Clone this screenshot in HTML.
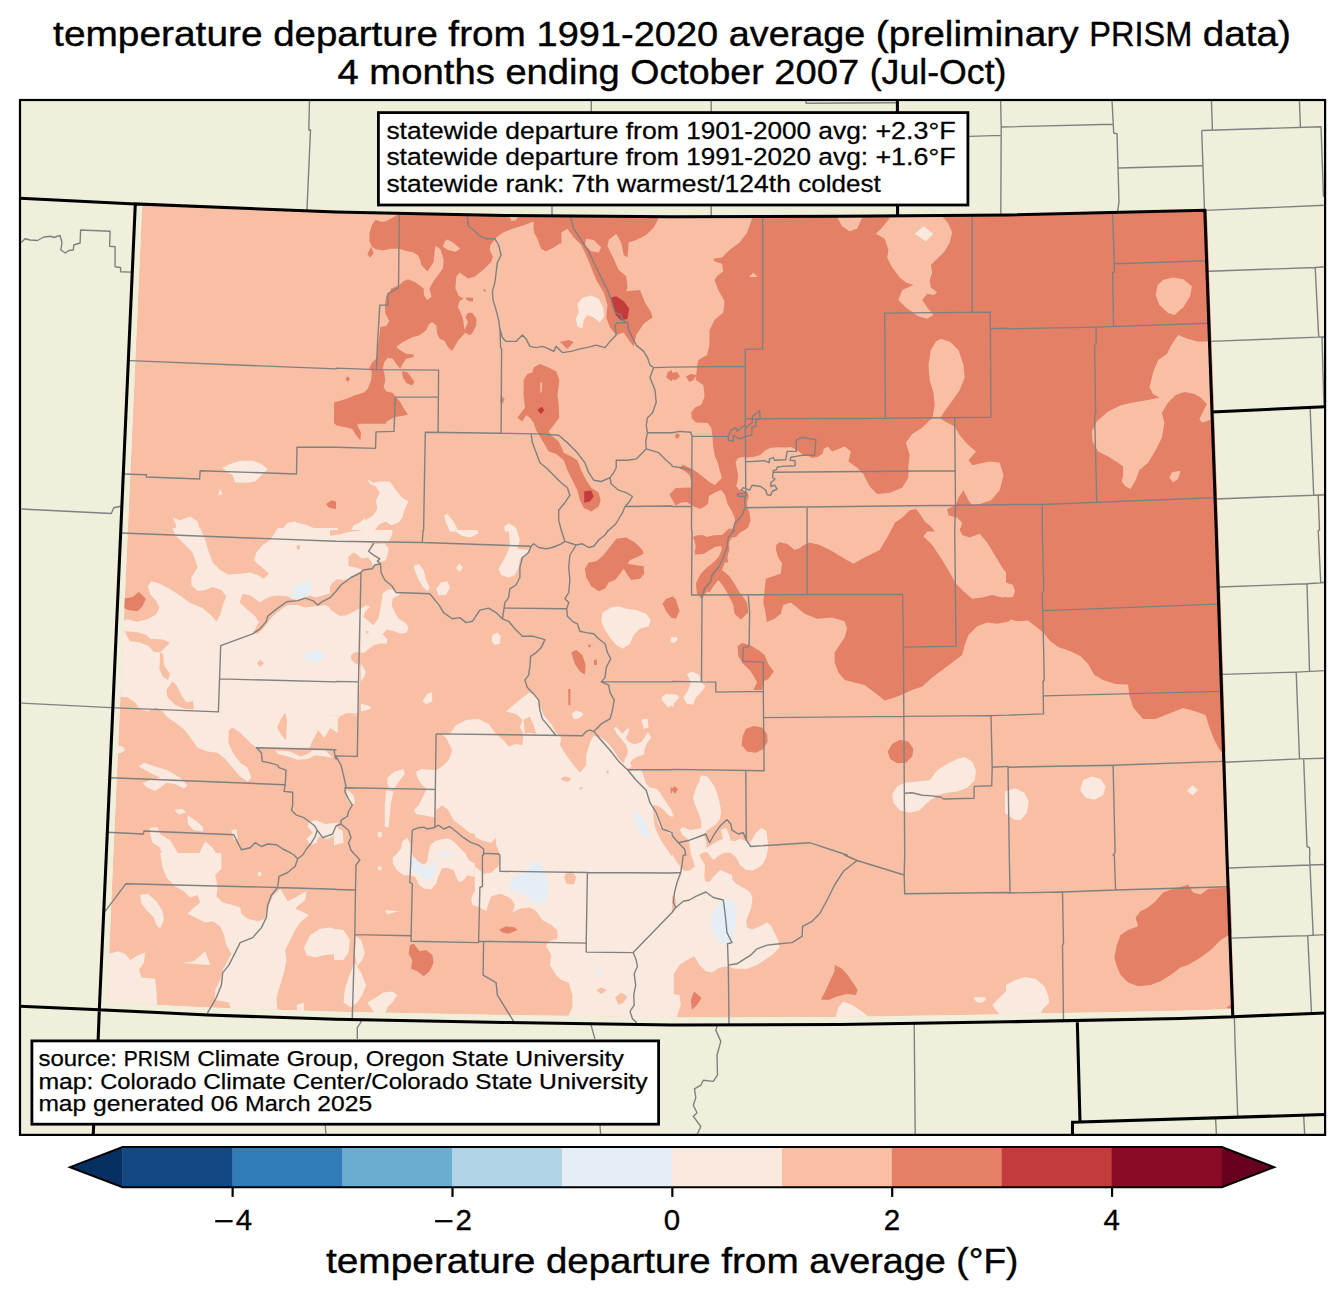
<!DOCTYPE html><html><head><meta charset="utf-8"><title>Colorado temperature departure</title>
<style>html,body{margin:0;padding:0;background:#fff}svg{display:block}text{font-family:"Liberation Sans",sans-serif;fill:#000;stroke:#000}</style></head><body>
<svg width="1344" height="1299" viewBox="0 0 1344 1299">
<rect width="1344" height="1299" fill="#fff"/>
<defs><clipPath id="fr"><rect x="20" y="100" width="1305.1" height="1034.9"/></clipPath>
<clipPath id="co"><path d="M142.2,203.9L336,212L504,215.5L672,216.8L840,216.3L1008,215L1206.8,210.2L1218.2,530L1228.9,855L1234.8,1008.9L1180,1010.8L1008,1014.2L840,1017L672,1017.4L504,1014.9L336,1011.7L207.5,1007.4L157.4,1005L106.95,1003.3L113.3,855L127.8,530Z"/></clipPath></defs>
<rect x="20" y="100" width="1305.1" height="1034.9" fill="#efefdb"/>
<g clip-path="url(#fr)">
<g clip-path="url(#co)" shape-rendering="geometricPrecision">
<path d="M142.2,203.9L336,212L504,215.5L672,216.8L840,216.3L1008,215L1206.8,210.2L1218.2,530L1228.9,855L1234.8,1008.9L1180,1010.8L1008,1014.2L840,1017L672,1017.4L504,1014.9L336,1011.7L207.5,1007.4L157.4,1005L106.95,1003.3L113.3,855L127.8,530Z" fill="#f8bfa4"/>
<g fill="#e48066"><path d="M326,504L331.5,500.2L336,501.5L336,509L329,507.7Z"/><path d="M399.5,213.4L392.8,217.5L386.1,221.2L381.1,221.7L375.6,219.7L371.9,225L369.4,233.4L369.4,240.9L371.9,246.8L376.1,249.3L382.8,250.4L391.1,248.8L399.1,248.8L406.2,250.9L412.8,252.3L417.8,255.1L420.3,260.1L421.2,265.1L427.5,271.5L433.7,261.8L434.5,251.8L435.7,245.9L440.4,249.3L443.7,260.1L442.9,268.5L433.7,281L429.5,288.5L431.5,296.9L427,299.9L424,295.2L423.7,288.5L419.5,285.2L414.5,281.8L407.8,279.3L402.8,281.8L399.1,285.2L391.1,288.5L389.1,293.5L386.1,296L384.9,305.2L385.3,313.6L389.4,321.1L386.1,326.1L380.3,326.9L379.1,338.6L377.8,348.6L376.1,358.7L371.9,362.8L369.4,367.9L371.9,372L371.1,380.4L367.7,388.7L362.7,393.7L354.4,395.4L347.7,399.6L341,402.9L336,403.8L334.3,403.8L334.3,423.8L386.1,423.8L386.1,422L394.5,417.1L402.8,415.8L407.8,414.6L403.6,407.9L400.3,402.1L396.1,397.1L392.8,392.9L386.1,391.2L383.6,387.1L385.3,380.4L384.4,373.7L382.8,367.9L384.4,362L387.8,357.8L392.8,358.7L396.1,363.7L400.3,368.7L402.8,363.7L406.2,358.7L413.7,357L413.7,354.5L406.2,353.7L400.3,350.3L396.1,347L402.8,342L412.8,337L419.5,335.3L426.2,330.3L428.7,324.4L432,321.9L436.2,325.3L437.1,333.6L439.6,338.6L444.6,341.1L447.9,347L452.1,351.1L455.4,345.3L457.9,341.1L462.9,335.3L465.4,332.8L469.6,335.3L472.1,333.6L476.3,325.3L476.3,318.6L472.1,312.7L468,312.7L465.4,316.9L468,321.9L464.6,330.3L462.9,318.6L460.4,311.9L457.9,306.9L459.6,301L463.8,298.5L458.8,296L455.4,288.5L456.3,276.8L459.6,272.6L468,278.5L474.6,276.8L483,270.1L491.3,261.8L493,256.8L489.7,250.1L490.5,245.1L496.3,237.6L503,232.6L513.1,228.4L524.7,225L534.8,220.9L537.3,219.2L538.1,225L533.9,232.6L537.3,238.4L541.4,249.3L546.5,250.9L553.1,247.6L560,243.4L561.5,243.4L561.5,212.5Z"/><path d="M371.1,246.8L373.6,253.4L370.2,257.6L367.4,254.3Z"/><path d="M346.4,377L349.4,379.5L347.7,382.1L345.7,379.5Z"/><path d="M402,371.2L407,372L411.2,377L414.5,382.1L412,385.4L406.2,382.9L402.8,377Z"/><path d="M465.4,297.7L473,297.4L473,301.5L468,301Z"/><path d="M501,395.4L504.7,399.6L502.2,403.8L500.5,400.4Z"/><path d="M483,289L486,289.9L484.7,292.2Z"/><path d="M533.6,215L533.6,230L538.7,236.3L539.9,245L544.9,251.3L553.7,247.5L558.7,240L561.2,232.5L567.4,228.8L573.7,237.5L581.2,245L586.2,255L591.2,267.5L596.2,280.1L603.7,292.6L607.5,305.1L606.2,317.6L610,327.6L616.2,335.1L623.7,332.6L628.7,340.1L633.7,346.4L636.2,335.1L643.7,323.8L652.5,317.6L651.2,312.6L645,302.6L640,290.1L626.2,291.3L627.5,287.6L626.2,276.3L618.7,270L613.7,258.8L607.5,246.3L608.7,240L616.2,233.8L621.2,242.5L623.7,255L627.5,257.5L628.7,242.5L636.2,240L646.2,235L653.7,227.5L658.7,218L658.7,213.8Z"/><path d="M533.6,367.6L539.9,363.9L548.7,367.6L556.2,371.4L559.4,380.1L557.4,395.1L558.7,405.2L559.2,417.7L553.7,425.2L548.7,431.4L551.2,435.2L558.7,441.4L562.4,448.9L563.7,452.7L571.2,456.4L577.4,460.2L581.2,470.2L586.2,480.2L591.2,487.7L598.7,492.7L600.7,500.2L598.7,506.5L591.2,511.5L583.7,507.7L579.9,500.2L577.4,490.2L572.4,480.2L567.4,470.2L563.7,460.2L556.2,453.9L548.7,451.4L543.7,442.7L539.9,436.4L536.2,430.2L533.6,422.7L529.9,417.7L526.1,415.2L522.4,421.4L517.4,417.7L521.1,412.7L524.9,407.7L523.6,395.1L523.6,380.1L527.4,373.9L532.4,372.6Z"/><path d="M346,377.6L348.5,376.4L350,379.6L347.5,381.4Z"/><path d="M500.6,395.1L504.1,398.9L502.4,403.9L500.4,401.4Z"/><path d="M559.9,342.1L568.7,340.1L573.7,342.1L567.4,348.9Z"/><path d="M672,370.1L667.5,372.6L666.2,377.6L672,381.4Z"/><path d="M395.3,397.6L399.8,402.6L403.6,408.9L407.3,414.7L401,415.7L395.3,416.4Z"/><path d="M334,402.6L346,398.9L356,395.1L367.3,391.4L386,391.4L394.8,397.6L395.3,416.4L389.8,408.9L387.3,415.2L381,423.2L373.5,420.2L366,417.7L359.8,420.2L357.3,425.2L361,432.7L360.3,440.2L356,435.2L352.3,428.9L346,427.2L341,426.4L336,425.2L334,421.4Z"/><path d="M753.3,215L747.1,232.5L739.6,242.5L729.5,250L722,257.5L713.3,258.8L714.5,261.3L722,263.8L723.3,271.3L717,276.3L714.5,280.1L718.3,290.1L724.5,301.3L723.3,312.6L714.5,320.1L709.5,330.1L709.5,345.1L707,355.1L698.3,360.1L697,367.1L695.8,380.1L703.3,385.1L704.5,395.1L703.3,403.9L827.1,403.9L827.1,445.7L832.1,451.4L844.6,446.4L850.9,451.4L848.4,461.4L857.1,467.7L863.4,474L869.6,486.5L877.2,494L889.7,492.7L902.2,487.7L908.4,477.7L908.4,465.2L909.7,455.2L905.9,442.7L912.2,433.9L922.2,427.7L929.7,420.2L933.4,417.7L941,418.9L947.2,422.7L954.7,426.4L959.7,435.2L967.2,443.9L976,451.4L968.5,460.2L972.2,465.2L989.7,461.4L999.7,462.7L1003.5,475.2L999.7,490.2L991,500.2L979.7,504L972.2,505.2L968.5,500.2L963.5,490.2L958.5,497.7L956,505.2L947.2,509L948.5,515.2L957.2,517.7L962.2,522.7L959.7,531.5L1009.8,531.5L1009.8,212.5Z"/><path d="M890.9,531.5L894.7,522.7L902.2,517.7L909.7,510.2L915.9,509L920.9,515.2L924.7,521.5L930.9,526.5L934.7,531.5Z"/><path d="M672,373.1L677,372.1L680,376.4L675.8,380.1L672,379.6Z"/><path d="M685.8,376.4L690.8,373.9L697,375.1L693.3,380.1L689.5,382.1Z"/><path d="M703.8,398.8L701.2,405L695,407.5L691.2,412.5L691.9,418.8L696.2,422.5L707.5,423.1L711.2,427.5L712.5,436.2L713.1,446.2L715,456.2L718.1,463.8L720,471.2L721.9,478.1L715,485L710,482.5L703.8,477.5L697.5,472.5L692.8,469.4L690,468.1L682.5,464.4L680,468.8L685,471.2L689.4,475L691,480L691.2,487.5L675.6,488.1L669.4,494.4L672.5,500L675.6,505.6L681.2,502.5L686.9,501.9L692.8,506.2L700,508.8L703.8,506.9L708.1,503.8L708.8,496.2L715,492.5L721.2,490L725,495L727.5,503.8L731.9,511.2L735,518.8L734.4,525L731.9,531.2L729.4,536.2L725,535.6L720,535L712.5,535.6L708.1,537.5L702.5,535L696.2,535.6L693.1,537.5L695.6,542.5L696.9,546.2L694.4,551.9L697.5,554.4L703.8,553.8L710,550L716.2,546.2L721.2,545L721.9,550L718.8,556.2L716.9,562.5L728.1,562.5L727.5,557.5L728.1,550L728.8,542.5L731.9,537.5L736.2,536.9L740,532.5L745,530L748.1,527.5L750.6,520L749.4,512.5L747.5,507.5L746.9,502.5L748.8,496.2L747.5,491.9L742.5,492.5L738.1,488.8L736.2,486.2L737.5,481.2L738.1,475L736.9,468.8L735.6,462.5L737.5,458.8L741.2,456.9L746.2,457.5L753.8,456.9L760,455L765,450.6L770,448.1L777.5,447.2L785,447.5L791.2,446.9L796.2,449.4L800,452.5L803.8,455L808.8,456.2L812.5,458.1L817.5,456.9L822.5,453.8L823.8,448.8L828.8,446.2L828.8,398.8Z"/><path d="M675.6,433.8L678.8,433.5L680,436.2L676.9,438.8L675,436.9Z"/><path d="M776.2,545L780,541.9L785,544.4L790,548.1L793.8,550.6L798.8,548.8L803.8,545L810,543.1L817.5,544.4L823.8,547.5L828.8,549.4L828.8,562.5L781.2,562.5L778.1,556.2L776.2,550Z"/><path d="M1006,210L1218.2,205L1223.2,531.5L1006,531.5Z"/><path d="M122.6,598.8L132.6,597.1L138.9,592L145.9,598.8L142.6,606.3L137.6,611.3L128.8,610.1L122.6,607.6Z"/><path d="M616.2,538.8L626.2,537.5L635,542.5L642.5,550L643.7,553.8L636.2,557.5L630,560L627.5,563.8L635,565L643.7,566.3L644.2,573.8L640,578.8L631.2,580L627.5,575L623.7,568.8L620,573.8L615,580L608.7,582.5L605,588.8L598.7,591.3L591.2,586.3L586.2,577.5L584.9,568.8L588.7,562.5L596.2,561.3L602.4,556.3L607.5,550L612.5,543.8Z"/><path d="M673.8,596.3L666.2,598.8L662.5,603.8L666.2,611.3L670,616.3L673.8,616.3Z"/><path d="M571.2,652.6L576.2,650.1L582.4,655.1L585.7,665.1L584.9,674.6L579.9,671.4L574.9,663.9Z"/><path d="M593.7,660.1L596.9,659.6L596.9,665.1L594.2,665.1Z"/><path d="M588.2,644.6L590.7,644.6L590.7,647.1L588.2,647.1Z"/><path d="M568.2,688.9L570.4,688.9L570.4,705.1L568.4,705.1Z"/><path d="M892.2,528L887.2,537.5L879.7,550L869.6,555L862.1,558.8L853.4,563.8L844.6,558.8L832.1,551.3L819.6,545L808.4,542.5L802.1,547.5L794.6,550L787.1,543.8L779.6,542.5L775.8,548.8L778.3,557.5L782.1,562.5L780.8,573.8L773.3,576.3L765.8,578.8L764.6,590L763.3,602.6L765.8,613.8L766.6,622.1L774.6,618.8L780.8,613.8L783.3,605.1L790.8,602.6L797.1,607.6L804.6,613.8L817.1,618.8L832.1,617.6L844.6,621.3L847.1,628.8L844.6,637.6L839.6,645.1L834.6,652.6L834.6,662.6L838.4,672.6L844.6,680.1L854.6,682.6L864.6,685.1L874.7,692.6L884.7,700.6L894.7,697.6L903.4,693.9L912.2,690.1L922.2,686.4L932.2,677.6L942.2,670.1L952.2,662.6L962.2,655.1L964.7,645.1L968.5,635.1L977.2,626.3L987.2,622.6L997.2,623.8L1009.8,621.3L1009.8,596.3L1002.2,597.6L992.2,595L982.2,597.6L972.2,598.8L963.5,591.3L956,583.8L949.7,572.5L942.2,560L932.2,545L923.4,536.3L929.7,528Z"/><path d="M959.7,528L962.2,535L969.7,537.5L979.7,533.8L987.2,542.5L994.7,555L1002.2,567.5L1009.8,577.5L1009.8,528Z"/><path d="M693.3,536.3L699.5,538.8L709.5,536.3L722,535L728.3,528.7L739.6,528.7L735.8,533.8L729.5,537.5L725.8,545L719.5,546.3L709.5,547.5L702,553.8L694.5,554.5L695.8,546.3Z"/><path d="M728.3,537.5L729.5,550L725.8,560L722,570L717,576.3L712,583.8L707,591.3L702,598.8L697,593.8L695.8,583.8L700.8,573.8L707,567.5L713.3,562.5L719.5,556.3L723.3,547.5L725.8,540Z"/><path d="M722,570L729.5,576.3L734.5,583.8L739.6,592.5L747.1,602.6L748.3,612.6L740.8,619.6L734.5,613.8L733.3,605.1L728.3,595L723.3,586.3L718.3,580L713.3,586.3L709.5,592.5L707,591.3L712,583.8L717,576.3Z"/><path d="M670.7,597.1L675.8,598.8L679.5,611.3L675.8,618.8L670.7,617.6Z"/><path d="M737.5,646.3L742.1,643.1L749.6,645.1L758.3,650.1L764.6,655.1L768.3,663.9L773.8,671.4L768.3,678.9L763.3,681.4L762.1,690.1L753.3,690.1L757.1,682.6L754.6,677.6L749.6,670.1L743.3,663.9L738.3,656.3Z"/><path d="M745.8,728.9L753.3,725.9L762.1,727.6L767.1,733.9L767.6,741.4L763.3,748.9L755.8,752.7L747.1,751.4L741.6,745.2L742.6,736.4Z"/><path d="M892.2,743.9L899.7,739.7L908.4,741.4L913.4,748.9L912.2,756.4L905.9,762.7L897.2,763.2L890.2,758.9L887.7,751.4Z"/><path d="M670.7,787.7L675,786.4L677.5,790.2L674.5,793.9L670.7,792.7Z"/><path d="M1006,528L1006,618.8L1018,621.3L1028,620.6L1035.5,626.3L1043,632.6L1050.5,641.3L1058,647.1L1070.5,651.3L1080.6,656.3L1088.1,663.9L1094.3,675.1L1103.1,680.1L1115.6,683.9L1128.1,684.6L1129.3,695.1L1133.1,707.6L1143.1,718.9L1155.6,718.9L1168.1,713.9L1183.1,708.1L1195.6,711.4L1205.6,715.1L1209.4,727.6L1214.4,740.2L1220.7,751.4L1228.2,751.4L1220.7,528Z"/><path d="M409.8,945.1L413.6,943.8L419.8,951.3L426.1,950.1L432.3,955.1L433.6,962.6L429.8,971.3L423.6,976.3L417.3,971.3L411.1,968.8L412.3,960.1L408.6,953.8Z"/><path d="M499.1,929.6L506.1,926.3L514.9,927.6L517.4,930.1L508.6,933.8L502.4,932.6Z"/><path d="M834.6,965.1L842.1,968.8L849.6,977.6L857.6,990.1L855.9,995.1L847.1,993.9L837.1,996.4L828.4,1000.1L820.9,999.4L825.9,990.1L830.9,978.8L834.6,971.3Z"/><path d="M694,991.4L701.5,998.1L697,1005.1L692,1009.6L690.8,1000.1Z"/><path d="M1188.1,884.5L1193.1,892.5L1200.6,894.5L1208.2,888.8L1233.2,887.5L1233.2,932.6L1220.7,940.1L1210.7,950.1L1200.6,957.6L1188.1,965.1L1180.6,967.6L1170.6,975.1L1160.6,981.3L1150.6,985.1L1138.1,986.3L1128.1,982.6L1120.6,975.1L1116.8,966.3L1114.3,957.6L1116.8,945.1L1120.6,935.1L1128.1,930.1L1138.1,926.3L1135.6,917.5L1140.6,911.3L1148.1,907.5L1155.6,901.3L1163.1,892.5L1173.1,888.8L1180.6,887Z"/><path d="M1226.2,1008.1L1233.2,1002.6L1233.2,1008.4Z"/></g>
<g fill="#f8bfa4"><path d="M447.1,239.6L452.9,242.6L460.4,248.8L455.4,251.8L447.9,250.1L442.9,246.4L444.6,241.7Z"/><path d="M509.7,217L518.1,216.7L515.6,220.4L511.4,220.9Z"/><path d="M586.2,238.8L593.7,240L601.2,247.5L598.7,252.5L591.2,251.3L584.9,245Z"/><path d="M540.2,382.6L542.2,382.6L541.7,392.6L540.4,392.6Z"/><path d="M941,338.9L949.7,341.4L958.5,350.1L963.5,365.1L964.7,377.6L959.7,390.1L951,402.6L943.5,412.7L939.7,419.2L932.2,419.2L934.7,405.2L933.4,392.6L929.7,380.1L928.4,365.1L930.9,350.1L935.9,341.4Z"/><path d="M892.2,215L882.2,227.5L875.9,233.8L884.7,238.8L888.4,250L887.2,257.5L892.2,267.5L899.7,277.6L905.9,282.6L913.4,285.1L902.2,290.1L898.4,300.1L905.9,307.6L918.4,316.3L927.2,318.8L933.4,315.1L927.2,307.6L922.2,300.1L927.2,293.8L933.4,295.1L937.2,292.6L930.9,287.6L929.7,280.1L932.2,272.6L930.9,265L937.2,258.8L944.7,251.3L949.7,242.5L952.2,232.5L948.5,223.8L941,215Z"/><path d="M835.9,215L842.1,226.3L849.6,231.3L857.1,228.8L863.4,215Z"/><path d="M753.3,272.6L757.6,277.1L749.1,277.1Z"/><path d="M1163.1,280.1L1173.1,277.6L1183.1,279.3L1191.9,286.3L1190.1,296.3L1183.1,307.6L1174.4,315.1L1168.1,313.1L1159.4,305.1L1155.6,295.1L1157.6,285.1Z"/><path d="M1178.1,335.1L1171.9,343.9L1166.9,353.9L1158.1,360.1L1153.1,372.6L1149.4,387.6L1153.1,393.9L1159.4,397.6L1148.1,400.1L1133.1,402.6L1120.6,405.2L1108.1,411.4L1096.8,421.4L1091.8,431.4L1092.6,441.4L1098.1,451.4L1108.1,456.4L1118.1,462.7L1123.1,466.4L1123.1,475.2L1121.8,481.5L1125.6,486.5L1130.6,489L1135.6,480.2L1139.3,470.2L1148.1,462.7L1155.6,450.2L1161.9,437.7L1164.4,422.7L1161.9,412.7L1168.1,402.6L1175.6,395.1L1184.4,392.1L1194.4,393.9L1200.6,397.6L1206.9,403.9L1203.1,411.4L1199.4,418.9L1201.9,422.7L1209.4,420.2L1215.7,418.9L1215.7,341.4L1198.1,341.4L1188.1,338.9Z"/><path d="M1171.9,472.2L1180.6,470.7L1178.1,479L1173.1,482.2L1169.4,477.7Z"/><path d="M1006,582.5L1013,585L1015,591.3L1013,597.1L1006,597.6Z"/></g>
<g fill="#c43b3c"><path d="M611.2,297.6L616.2,296.3L623.7,301.3L629.2,308.8L627.5,318.8L621.2,320.6L615.7,315.1L612.5,306.3Z"/><path d="M537.4,409.7L541.7,406.7L544.4,410.2L540.7,413.9Z"/><path d="M584.2,491.5L591.2,490.2L593.7,496.5L589.9,501.5L584.2,502.7Z"/></g>
<g fill="#fae9df"><path d="M222.2,467.7L230.2,463.9L240.2,460.7L252.7,460.7L261.4,463.9L267.7,468.9L262.7,474L255.2,481.5L245.2,482.7L235.2,482.2L232.7,475.2L226.4,471.4Z"/><path d="M220.2,489L222.7,494L218.2,495.2Z"/><path d="M172.6,517.7L180.1,520.2L190.1,516.5L197.6,521.5L200.2,531.5L175.1,531.5L176.4,525.2Z"/><path d="M280.2,531.5L287.7,522.7L295.2,521.5L302.7,531.5Z"/><path d="M367.3,479L373.5,482.7L379.8,481.5L389.8,481.5L396,490.2L402.3,497.7L408.6,501.5L404.8,509L402.3,517.7L398.5,522.7L391,525.2L386,521.5L379.8,524L373.5,531.5L351,531.5L353.5,525.2L363.5,521.5L373.5,515.2L377.3,509L376,500.2L379.8,492.7L376,486.5L369.8,484Z"/><path d="M444.1,515.2L447.3,514L453.6,521.5L458.6,531.5L449.8,531.5L446.1,522.7Z"/><path d="M504.1,526.5L508.6,523.2L514.9,526.5L516.1,531.5L504.9,531.5Z"/><path d="M577.4,303.8L582.4,298.1L591.2,295.6L598.7,298.8L603.2,307.6L604.2,316.3L599.9,322.6L593.7,317.6L587.4,315.1L583.7,320.1L582.4,328.8L577.4,326.3L575.7,318.8L578.7,312.6Z"/><path d="M923.4,226.3L933.4,233.8L925.9,241.3L914.7,233.8Z"/><path d="M120.1,622.1L127.6,619.3L136.4,621.8L147.6,619.3L156.4,614.3L159.4,607.6L155.6,600.1L150.6,595L147.6,586.3L151.4,581.3L160.1,583.8L170.1,589.3L180.1,595.5L190.1,603.1L202.7,608.1L211.4,615.6L216.4,621.8L220.2,615.1L222.7,605.1L226.4,596.3L221.4,590L212.7,587L205.2,590L197.6,591.3L191.4,585L191.4,577.5L197.6,567.5L192.6,552.5L185.1,545L175.1,535L172.6,528L200.2,528L205.2,540L208.9,552.5L212.7,562.5L220.2,570L227.7,574.5L240.2,573.8L250.2,572.5L257.7,575L263.9,578.8L269,573.8L265.2,570L258.9,565L253.9,560L256.4,552.5L262.7,545L270.2,540L275.2,532.5L277.7,528L337.8,528L337.8,588L332.7,592.5L322.7,595.5L315.2,597.6L310.2,595.5L304,597.6L297.7,600.1L291.5,598.8L287.7,596.3L277.7,595.5L271.5,596.3L265.2,598.8L260.2,602.6L250.2,595.5L242.7,593.8L239.7,602.6L247.7,610.1L255.2,616.3L258.9,622.6L255.2,628.8L252.7,632.6L257.7,633.8L265.2,626.3L271.5,617.6L280.2,610.1L287.7,605.1L297.7,605.1L305.2,607.6L315.2,606.3L325.2,605.1L337.8,612.6L337.8,733.2L330.2,728.1L324.5,737.7L318.2,730.2L311.5,742.7L309.7,747.7L256.4,747.7L250.2,742.7L240.2,732.7L232.7,727.6L228.9,730.2L228.2,742.7L232.7,752.7L240.2,762.7L247.7,767.7L251.4,777.7L247.7,781.4L240.2,776.4L232.7,767.7L225.2,758.9L217.7,752.7L207.7,751.4L197.6,747.7L191.4,738.9L185.1,730.2L175.1,722.6L166.4,716.4L162.6,711.4L156.4,707.6L147.6,711.4L140.1,708.9L135.1,702.6L127.6,697.6L117.6,696.4Z"/><path d="M116.3,745.2L122.6,746.4L125.1,750.2L120.1,753.4L116.3,752.7Z"/><path d="M138.9,766.4L143.9,762.7L155.1,766.4L167.6,770.2L180.1,777.7L187.6,785.2L183.9,788.4L175.1,783.9L166.4,782.7L160.1,787.7L155.1,790.7L147.6,787.7L142.6,783.2L150.1,780.2L160.1,777.7L150.1,772.7Z"/><path d="M174.4,809.7L182.6,809L186.4,812.2L178.9,814.5Z"/><path d="M187.6,815.2L195.1,820.2L202.7,826.5L203.2,831.5L193.9,830.2L187.6,824Z"/><path d="M150.1,827.7L157.6,827.2L160.1,834L170.1,840.2L180.1,856.5L162.6,856.5L160.1,847.7L152.6,842.7L150.1,834Z"/><path d="M197.6,856.5L205.2,841.5L212.7,847.7L217.7,856.5Z"/><path d="M231.4,830.2L236.4,829L237.7,839L233.9,840.2Z"/><path d="M309,821.5L316.5,820.2L325.2,824L337.8,822.7L337.8,834L327.7,839L319,836.5L316.5,842.7L310.2,845.2L306.5,839L312.7,832.7L307.7,826.5Z"/><path d="M275.2,750.2L290.2,751.4L300.2,756.4L307.7,753.9L312.7,750.2L325.2,750.2L332.7,757.7L325.2,756.4L315.2,755.2L307.7,758.9L297.7,759.7L287.7,756.4L277.7,753.9Z"/><path d="M436.1,770.2L443.6,765.2L448.6,760.2L452.3,750.2L446.1,737.7L441.1,733.9L449.8,733.9L456.1,725.1L466.1,720.1L478.6,718.9L488.6,723.9L496.1,733.9L503.6,740.2L508.6,746.4L516.1,743.9L522.4,745.2L523.6,733.9L519.9,727.6L522.4,720.1L516.1,713.9L506.1,711.4L513.6,705.1L522.4,697.6L529.9,692.6L536.2,696.4L539.9,705.1L543.7,715.1L551.2,723.9L556.2,732.7L561.2,737.7L559.9,745.2L566.2,755.2L573.7,765.2L579.9,772.7L586.2,765.2L586.2,755.2L589.9,742.7L593.7,735.2L597.4,737.7L605,745.2L611.2,752.7L618.7,760.2L626.2,767.7L632.5,773.9L640,782.7L646.2,790.2L651.2,802.7L657.5,815.2L661.2,825.2L666.2,830.2L673.8,831.5L673.8,856.5L501.1,856.5L496.1,845.2L496.1,837.7L491.1,842.7L481.1,840.2L472.4,835.2L463.6,827.7L453.6,820.2L448.6,810.2L442.3,805.2L436.1,810.2Z"/><path d="M593.7,749.7L596.7,753.9L595.7,761.4L592.9,756.4Z"/><path d="M602.4,612.6L611.2,607.6L618.7,606.3L626.2,608.8L636.2,610.1L646.2,613.8L650.7,620.1L648.7,626.3L640,628.8L633.7,635.1L630,643.8L622.5,648.8L616.2,645.1L610,637.6L605,630.1L601.2,621.3Z"/><path d="M508.6,528L516.1,528L519.9,540L517.4,548.8L528.6,550L526.1,555L519.9,558.8L518.6,567.5L514.9,575L508.6,577.5L501.1,575L498.6,568.8L503.6,560L507.4,552.5L509.9,545Z"/><path d="M413.6,566.3L418.6,563.8L423.6,570L426.1,580L429.8,587.5L427.3,591.3L422.3,586.3L417.3,577.5Z"/><path d="M436.1,588.8L441.1,582.5L447.3,581.3L449.8,587.5L446.1,595L438.6,595.5Z"/><path d="M459.3,563.8L463.1,567.5L459.8,571.8L456.1,568Z"/><path d="M492.4,635.1L497.4,632.6L500.6,636.3L499.9,643.8L494.9,645.1L491.9,641.3Z"/><path d="M422.3,701.4L427.3,693.9L431.8,692.1L432.3,701.4L426.1,703.9Z"/><path d="M571.7,713.9L576.2,710.6L583.7,713.9L579.9,718.1L573.7,718.9Z"/><path d="M661.2,697.6L666.2,693.9L673.8,695.1L673.8,706.4L666.2,705.1Z"/><path d="M641.7,720.1L647.5,718.9L648.7,727.6L643.7,728.9Z"/><path d="M334,542.5L368.5,542.5L373.5,547.5L367.3,553.8L361,552.5L353.5,553.8L348.5,557.5L348.5,565L358.5,567.5L361,571.3L351,576.3L341,583.8L334,588.8Z"/><path d="M361,612.6L367.3,606.3L371,610.1L369.8,617.6L373.5,623.8L379.8,617.6L378.5,605.1L382.3,592.5L389.8,588.8L393.5,597.6L392.3,605.1L397.3,612.6L404.8,620.1L408.6,626.3L406.1,632.6L396,631.3L389.8,627.6L386,635.1L388.5,641.3L381,643.8L373.5,645.1L366,651.3L359.8,652.6Z"/><path d="M334,616.3L343.5,612.6L351,610.1L361,615.1L359.8,652.6L351,653.8L349.8,658.8L356,662.6L359,666.4L358.5,681.4L334,680.1Z"/><path d="M334,679.6L358,680.1L358,702.6L363.5,705.1L371,706.4L368.5,708.9L358.5,710.1L357.3,716.4L349.8,715.1L342.3,713.9L334,722.6Z"/><path d="M387.3,777.7L394.8,771.4L403.6,768.9L404.8,773.9L399.8,780.2L394.8,787.7L389.8,790.2L387.3,783.9Z"/><path d="M416.1,771.4L422.3,768.9L436.1,770.2L436.1,788.9L428.6,790.2L422.3,785.2L417.3,777.7Z"/><path d="M386,790.2L393.5,791.4L391,802.7L389.8,815.2L388.5,827.7L384.8,826.5L384.8,805.2Z"/><path d="M413.6,810.2L418.6,805.2L423.6,795.2L426.1,790.2L435.6,790.2L435.6,817.7L423.6,815.2L416.1,814Z"/><path d="M377.3,832.7L381,831.5L382.3,836.5L378.5,837.7Z"/><path d="M346.5,788.9L353.5,795.2L354.8,802.7L351,805.2L347.3,799Z"/><path d="M334,826.5L342.3,830.2L343.5,842.7L334,845.2Z"/><path d="M432.3,856.5L434.8,847.7L441.1,842.7L447.3,844L452.3,850.2L454.8,856.5Z"/><path d="M687,673.9L692,671.4L699.5,675.1L700.8,681.4L705.3,686.4L700.8,692.6L695.8,697.6L693.3,704.4L687,703.9L683.3,697.6L688.3,690.1L690.8,682.6Z"/><path d="M670.7,693.9L677,695.1L679.5,697.6L674.5,702.6L670.7,703.9Z"/><path d="M670.7,637.6L677,637.1L677.5,640.1L674,643.1L670.7,642.1Z"/><path d="M702,775.7L709.5,780.2L715.8,790.2L718.3,802.7L720.8,812.7L718.3,820.2L712,825.2L707,832.7L702,825.2L700.8,815.2L697,807.7L694,797.7L697,785.2Z"/><path d="M679.5,827.7L687,831.5L699.5,832.7L709.5,834L717,825.2L722,821.5L730.8,830.2L734.5,837.7L743.3,841.5L752.1,835.2L758.3,830.2L765.8,829L767.1,837.7L759.6,845.2L747.1,846.5L732,847.7L729.5,856.5L692,856.5L688.3,845.2L682,835.2Z"/><path d="M897.2,786.4L904.7,782.7L917.2,781.4L929.7,780.2L937.2,770.2L947.2,763.9L957.2,758.9L964.7,757.2L972.2,761.4L976,770.2L974.7,780.2L967.2,787.7L957.2,791.4L947.2,792.7L937.2,795.2L927.2,802.7L919.7,810.2L909.7,812.7L899.7,810.2L893.4,802.7L892.2,793.9Z"/><path d="M1083.1,780.2L1091.8,776.4L1100.6,778.9L1105.6,786.4L1103.1,795.2L1094.3,799.7L1085.6,797.7L1080.1,790.2Z"/><path d="M1005,791.4L1015.5,788.2L1024.3,792.7L1028.8,801.5L1026.8,812.7L1020.5,820.2L1014.3,819.7L1005,812.7Z"/><path d="M1192.4,785.2L1198.1,790.2L1192.6,795.2L1186.9,790.7Z"/><path d="M613.8,728.1L616.2,726.9L622.5,733.8L626.2,729.4L629.4,728.1L628.5,732.8L625.6,737.5L628.1,741.2L634.4,744.4L641.2,741.9L645,736.9L647.9,731.9L651.2,737.5L647.5,742.5L645,748.1L643.5,755L637.5,756.5L633.1,759L630,763.1L631.9,766.9L626.9,768.5L622.5,765L625,758.8L627.5,755L627.8,750L625.6,744.4L621.9,739.4L617.5,735Z"/><path d="M596.2,736.2L601.2,737.5L606.2,741.2L611.2,746.9L615,752.5L618.8,758.8L622.5,762.5L626.9,768.5L621.2,765L615,758.8L610,750L603.8,743.8L597.5,737.5Z"/><path d="M626.9,768.8L641.2,770L643.8,776.2L646.2,783.8L650,787.5L656.2,788.8L660,792.5L663.8,798.8L668.8,806.2L673.8,813.8L673.1,816.9L668.8,815.6L663.8,810L658.8,806.2L653.8,805L651.9,807.5L647.5,800L646.2,792.5L640,785L633.8,776.2L628.1,772.5Z"/><path d="M701.2,775.6L706.9,776.5L711.2,781.2L715,790L718.1,800L720.6,808.8L721.5,817.5L719.4,823.1L714.4,826.2L707.5,828.1L701.2,826.2L701.9,821.2L700,814.4L696.9,807.5L694,798.8L695,791.2L697.5,783.8Z"/><path d="M701.2,826.2L707.5,828.1L697.5,830L690,829.4L685,827.2L681.2,828.8L681.9,833.8L687.5,837.5L689.4,841.9L685,840L680,833.8L680,828.8L683.8,826.2L691.2,828.1Z"/><path d="M661.2,699.4L665,703.8L668.1,707.5L672.5,703.8L676.2,699.4Z"/><path d="M685,699.4L688.8,703.1L692.5,703.1L695,699.4Z"/><path d="M572.5,713.1L576.2,711L581.2,711.9L583.1,713.8L580.6,716.9L576.2,718.8L573.8,716.2Z"/><path d="M642.2,720L644.4,718.8L647.5,720.6L648.1,728.1L645.6,727.5L642.5,723.8Z"/><path d="M273.3,540L283.3,531.7L293.3,521.7L306.7,525L316.7,529.3L333.3,532.7L346.7,533.3L356.7,525L365,518.3L366.7,540Z"/><path d="M160.1,853L221.4,853L221.4,868.8L215.2,875L217.7,887.5L216.4,896.3L222.7,902.5L232.7,905L240.2,907.5L241.4,913.8L247.7,918.8L257.7,921.3L265.2,918.8L269,905L272.7,896.3L280.2,888.8L284,895L287.7,901.3L295.2,897.5L306.5,891.3L305.2,900L299,905L295.2,908.8L304,912.5L309,915L300.2,922.6L295.2,930.1L290.2,940.1L285.2,950.1L286.5,960.1L284,972.6L280.2,985.1L276.5,997.6L277.7,1015.1L250.2,1015.1L232.7,1015.1L228.9,1002.6L215.2,1000.1L215.2,990.1L220.2,980.1L222.7,970.1L231.4,953.8L226.4,945.1L223.9,935.1L220.2,926.3L212.7,921.3L205.2,922.6L197.6,918.8L187.6,913.8L192.6,908.8L200.2,902.5L197.6,895L190.1,897.5L183.9,891.3L175.1,886.3L166.4,877.5L162.6,867.5Z"/><path d="M304,947.6L310.2,935.1L320.2,928.8L330.2,927.6L337.8,930.1L337.8,953.8L325.2,955.1L315.2,957.6L306.5,955.1Z"/><path d="M296.5,1005.1L304,1002.6L304,1015.1L297.7,1015.1Z"/><path d="M105.1,955.1L117.6,951.3L125.1,953.8L130.1,960.1L138.9,955.1L145.1,952.6L143.9,962.6L138.9,970.1L141.4,977.6L155.1,978.8L156.4,990.1L157.6,1015.1L100.1,1015.1Z"/><path d="M140.1,895L147.6,893.8L156.4,901.3L162.6,911.3L163.9,920L160.1,928.8L156.4,925.1L153.9,917.5L147.6,911.3L141.4,903.8Z"/><path d="M182.1,963.1L193.9,961.3L205.2,951.3L210.2,965.1Z"/><path d="M257.7,872.5L260.9,872L261.4,875.8L258.2,876.3Z"/><path d="M483.6,887.5L478.6,898.8L472.4,905L479.9,907.5L486.1,911.3L491.1,896.3L501.1,893.8L511.1,898.8L514.9,905L512.4,912.5L519.9,908.8L529.9,907.5L536.2,911.3L542.4,920L551.2,925.1L557.4,930.1L557.4,938.8L548.7,941.3L546.2,946.3L551.2,955.1L549.9,965.1L556.2,975.1L561.2,980.1L568.7,982.6L572.4,995.1L572.4,1007.6L566.2,1020.1L673.8,1020.1L673.8,853L499.9,853L498.6,865L491.1,872.5L483.6,873.8Z"/><path d="M393.5,853L482.4,853L483.6,887.5L478.6,898.8L472.4,905L471.1,898.8L474.9,890L471.1,882.5L466.1,877.5L461.1,882.5L456.1,875L446.1,868.8L441.1,880L433.6,887.5L421.1,887.5L413.6,882.5L409.8,878.8L403.6,870L394.8,865Z"/><path d="M334,928.8L343.5,930.1L349.8,940.1L348.5,952.6L343.5,960.1L334,960.1Z"/><path d="M356,936.3L361,940.1L364.8,952.6L362.3,960.1L357.3,966.3L354.8,955.1Z"/><path d="M354.8,962.6L361,972.6L366,985.1L362.3,995.1L357.3,1002.6L351,1007.6L343.5,1002.6L344.8,990.1L348.5,977.6Z"/><path d="M367.3,1002.6L376,997.6L383.5,992.6L392.3,991.4L397.3,995.1L392.3,1002.6L387.3,1007.6L384.8,1015.1L376,1015.1Z"/><path d="M385.3,910L398.5,911.3L387.3,914.3Z"/><path d="M378,866.3L381.8,867L381,870.5L377.5,869.5Z"/><path d="M709.5,853L715.8,861.3L725.8,858.8L730.8,853Z"/><path d="M735.8,853L740.8,865L749.6,870L759.6,867.5L765.8,853Z"/><path d="M670,873.8L679.5,872.5L682,862.5L685.8,870L694.5,867.5L698.3,860L703.3,870L704.5,881.3L713.3,876.3L723.3,873.8L730.8,878.8L734.5,885L744.6,890L752.1,897.5L753.3,905L749.6,912.5L745.8,922.6L748.3,930.1L757.1,927.6L768.3,922.6L774.6,932.6L778.3,941.3L779.6,947.6L772.1,955.1L764.6,960.1L757.1,965.1L747.1,968.8L734.5,968.8L728.3,966.3L719.5,967.6L712,972.6L705.8,971.3L699.5,965.1L694.5,956.3L687,960.1L679.5,965.1L670,980.1Z"/><path d="M670,993.9L679.5,995.1L680.8,1005.1L675.8,1020.1L670,1020.1Z"/><path d="M834.6,1020.1L838.4,1007.6L843.4,1001.4L852.1,1005.1L862.1,1011.4L872.2,1020.1Z"/><path d="M992.2,1005.1L999.7,997.6L1009.8,987.6L1009.8,1020.1L1003.5,1020.1Z"/><path d="M973,997.6L984.7,996.9L986,1000.1L981,1003.1L976,1001.4Z"/><path d="M1006,985.1L1015.5,980.1L1025.5,977.1L1035.5,978.8L1044.3,986.3L1048,995.1L1049.3,1002.6L1043,1008.9L1038,1020.1L1006,1020.1Z"/></g>
<g fill="#f8bfa4"><path d="M125.1,631.3L136.4,632.1L146.4,635.1L150.1,638.8L162.6,639.6L170.1,642.6L163.9,648.8L160.1,652.6L153.9,652.1L148.9,646.3L140.1,642.6L130.1,641.3L126.3,635.1Z"/><path d="M160.1,652.6L163.1,653.8L163.9,665.1L170.1,673.9L168.1,680.1L162.6,676.4L159.4,668.9Z"/><path d="M172.6,681.4L176.4,685.1L181.4,695.1L186.4,702.6L193.1,700.9L193.9,709.6L185.1,709.1L175.1,705.1L167.6,697.6L166.4,690.1Z"/><path d="M260.2,659.6L263.9,663.4L260.2,667.1L256.9,663.4Z"/><path d="M285.2,712.6L287,720.1L286,740.2L281.5,735.2L277.2,727.6L280.2,720.1Z"/><path d="M296.5,545.5L299.7,545L300.2,548.8L297.2,550Z"/><path d="M523.6,720.1L529.9,716.4L533.6,725.1L536.2,733.9L528.6,732.7L524.9,733.9Z"/><path d="M428.6,856.5L432.3,844L441.1,839L448.6,840.2L454.8,847.7L458.6,856.5Z"/><path d="M653.1,806.2L656.2,816.2L658.8,825L663.8,830L670,833.8L676.2,842.5L683.8,848.8L685,862.5L676.2,862.5L670,853.8L663.8,845L658.8,836.2L655,827.5L653.5,818.8Z"/><path d="M560.6,778.1L565,776.5L570,777.5L571,780L567.5,781.9L562.5,780.6Z"/><path d="M578.8,788.1L581.9,786.9L583.1,788.1L580.6,790Z"/><path d="M606.2,771.2L608.1,769.8L609,773.1L606.9,773.8Z"/><path d="M330,530L410.2,530L410.2,715.4L330,715.4Z"/><path d="M467.3,853L498.6,853L498.6,866.3L491.1,872.5L483.6,873L476.1,867.5L469.9,862.5Z"/><path d="M566.2,872.5L572.4,871.3L576.2,877.5L573.7,884.5L566.2,883.8L564.2,877.5Z"/><path d="M596.2,990.1L601.2,987.6L607,990.1L601.2,993.9Z"/><path d="M615,997.6L621.2,992.6L627.5,996.4L623.7,1002.6L618.7,1005.1Z"/><path d="M672,780L828,780L828,942L672,942Z"/><path d="M390.3,833.5L474.7,833.5L474.7,892L390.3,892Z"/></g>
<g fill="#fae9df"><path d="M330,535.8L340,534.2L350,531.7L363.4,530L392.6,530L391.8,535.8L388.5,541.7L380.1,542.5L330,540.9Z"/><path d="M373.8,544.2L385.1,543.4L388.5,548.4L387.6,555.1L385.1,560.9L380.1,561.7L379.3,558.4L375.1,555.1L370.1,552.5L369.3,550Z"/><path d="M330,540.7L371.8,543L368.8,551.7L371.8,555.1L378.4,559.2L380.1,563.4L374.3,565.1L372.6,565.9L371.8,561.7L367.6,557.6L361.7,558.4L357.6,555.1L353.4,552.5L348.4,556.7L348.4,565.9L355.1,567.6L361.7,569.3L360.1,572.6L355.1,575.9L350,578.4L343.4,580.1L336.7,579.3L331.7,583.4L330,586.8Z"/><path d="M330,609.3L335,612.7L340,616L346.7,615.2L353.4,611.8L360.9,607.7L360.1,681.2L358.4,705.4L358.1,713.7L346.7,712.9L341.7,715.4L330,715.4Z"/><path d="M360.9,608.5L365.9,605.2L370.1,606.8L365.1,611.8L363.4,616.9L368.4,621L373.4,625.2L378.4,618.5L380.1,610.2L381.8,600.2L382.6,593.5L386.8,590.1L391.8,589.3L396,592.6L400.2,594.3L392.6,598.5L391.8,605.2L394.3,611.8L398.5,618.5L405.2,622.7L408.5,626.9L406.8,632.7L400.2,633.6L393.5,631.1L386.8,629.4L382.6,634.4L387.6,639.4L386.8,643.6L380.1,643.6L373.4,645.2L368.4,649.4L364.2,652.8L360.9,652.8Z"/><path d="M360.9,663.6L365.9,672L364.2,677L360.9,681.2Z"/><path d="M360.9,703.7L368.4,705.4L371.8,707.9L365.9,710.4L360.9,711.2Z"/><path d="M452.8,530L462,535.8L470.3,537.5L478.7,533.3L477,530Z"/><path d="M700,780L710,780L715,787.5L718.8,798.8L721.2,811.2L720,818.8L715,825L707.5,830L703.8,835L696.2,838.1L688.8,841.2L687.5,838.8L682.5,835L680,830L682.5,826.9L690,830L697.5,828.8L701.2,828.1L701.2,821.2L698.8,813.8L695,805L693.1,797.5L695.6,788.8Z"/><path d="M671.2,812.2L673.8,814.4L672.5,816.9L671.2,816.2Z"/><path d="M688.8,841.2L696.2,838.1L703.8,835L706.5,842.5L706,847.5L712.5,844.4L717.5,841.2L723.1,838.8L721.9,833.8L720.6,830L726.2,828.1L728.8,833.8L730.6,840.6L735,841.2L740,838.8L746.2,841.2L750,842.5L752.5,838.8L756.2,832.5L761.2,828.1L766.2,830.6L767.5,838.8L768.1,847.5L766.2,857.5L762.5,864.4L757.5,868.1L752.5,870.6L746.2,870L740,865L736.2,857.5L731.2,853.1L725,852.5L718.8,855.6L713.8,860L710,856.2L707.5,852.2L703.1,852.5L699.4,855L701.9,860L705,865L704.4,875L705,881.2L709.4,881.9L713.8,876.2L720,870L726.2,872.5L731.9,875L732.5,880L736.2,883.8L745,888.8L750,892.5L752.5,897.5L751.2,907.5L748.8,913.8L746.2,921.2L746.9,927.5L752.5,929.4L760,926.2L767.5,922.5L771.2,926.2L775,933.8L778.8,942L672,942L672,913.8L675,908.8L672.5,905L672.5,897.5L676.2,888.8L680,880L680.6,873.1L681.2,867.5L685,871.2L690,870.6L694.8,866.2L693.8,862.5L691.2,855L690,848.1Z"/><path d="M672,853.8L676.2,861.2L680,866.2L680.6,873.1L680,880L676.2,888.8L672.5,897.5L672,897.5Z"/><path d="M407,837.7L410.3,843.5L411.7,853.5L414.5,858.5L418.7,861.9L423.7,864.4L427.1,861.9L428.4,853.5L430.4,845.2L435.4,841L442.1,839.3L448.8,838.5L453.8,841.8L458.8,846.9L465.5,853.5L468.8,860.2L474.7,863.6L474.7,876.9L467.1,875.2L463.8,880.3L458.8,881.9L455.4,875.2L453.8,870.2L447.1,867.7L442.1,868.6L438.7,875.2L436.2,883.6L431.2,889.4L423.7,888.6L418.7,884.4L415.4,876.9L410.3,875.2L403.7,875.2L397,870.2L392.8,863.6L392.8,857.7L397,853.5L401.2,848.5L402,841.8Z"/></g>
<g fill="#f8bfa4"><path d="M350.9,655.3L355.1,651.9L361.1,652.8L361.1,665.3L355.1,663.6L351.4,659.4Z"/><path d="M365.9,631.1L368.4,631.1L368.4,633.6L365.9,633.6Z"/><path d="M672,896.2L673.5,895L675.6,898.8L676.2,903.8L674.8,908.8L672.5,908.1Z"/></g>
<g fill="#e4eef4"><path d="M292.7,588.8L300.2,583.8L310.2,581.3L311.5,588.8L306.5,597.1L297.7,599.6L291.5,595.5Z"/><path d="M302.7,655.8L311.5,650.1L320.2,651.3L325.2,656.3L319,662.6L309,661.3Z"/><path d="M438.6,856.5L442.3,852.2L449.8,852.7L452.3,856.5Z"/><path d="M633,814L637.5,812.7L642.5,817.7L647.5,826.5L648.7,834L646.2,839L641.2,834L636.2,825.2Z"/><path d="M508.6,882.5L516.1,876.3L526.1,871.3L533.6,862.5L539.9,862L543.7,870L546.2,880L548.7,890L546.2,898.8L543.7,905L534.9,902.5L526.1,895L517.4,892.5L509.9,888.8Z"/><path d="M598.7,966.3L602.4,973.8L594.9,974.6Z"/><path d="M718.3,905L723.3,900L730.8,900L737,907.5L735.8,920L734.5,930.1L733.3,941.3L722,945.1L718.3,942.6L713.3,932.6L710.8,922.6L713.3,912.5Z"/><path d="M408.7,858.5L414.5,857.7L418.7,861.9L423.7,866.1L428.7,866.9L434.6,860.2L435.4,866.9L433.7,875.2L430.4,880.3L425.4,879.4L420.4,875.2L415.4,872.7L410.3,868.6L408.3,863.6Z"/><path d="M438.7,852.2L449.6,852.7L450.4,855.2L440.4,856Z"/></g>
<g fill="#e48066"><path d="M674.4,786L678.1,789L675,793.8L671.2,789.8Z"/></g>
</g>
<path fill="none" stroke="#808080" stroke-width="1.4" stroke-linejoin="round" d="M309.5,100L308.8,130L310.5,130L307,209L306.9,210.8M591.3,100L591.3,112M552,206L552,215.5L552,215.9M711.2,100L711.2,112M711.2,206L711.2,216.5M806,100L806,103.3L897,102.8L897.4,102.8M1000.6,100L1001.2,127L1000.8,215M969,136.4L1000.8,135.4L1001.2,135.4M1001.2,127L1113,124.3M1112,100L1113.7,133L1117,133.7L1119,202L1117.5,212L1117.5,212.3M1118,168L1119,168L1202,165.8L1202.9,165.8M1211.4,100L1212.4,129.5L1212.4,130.2M1201.7,130.5L1321,126.8L1323.5,196.8M1201.7,130.5L1204.5,210.4M1299.4,100L1300.4,127.4M1205,210.4L1325,205.2M21.3,242.5L25,238.8L30,240L37.5,240.5L43.8,237L51.3,236.3L53.8,237.5L60,235.5L62,242.5L60.8,250L65.5,253L68.8,250.5L73.3,250L73.8,245L80.1,243L80.6,230L110.1,231.3L109.6,246.3L115.1,246.8L115.1,266.8L120.6,267.5L120.6,271.8L130.6,272.1L132.3,272.2M21.3,509L111.3,513.5L113.8,507.7L119.6,506.5L121.8,506.6M128.3,360.5L130.1,360.6L336,368.9L336,368.1M123.3,474L124.3,474L146.4,474.7L146.4,477L199.6,479L200.2,470.7L296.5,474L297,447.2L336,447.2M399.3,213.3L399.3,215L398.5,287.6L387.8,293.8L387.8,305.1L379.8,305.1L377.3,347.6L376.5,369.6M336,368.1L376.5,369.6L438.6,370.1L438.1,431.4L438.1,432.4M395.3,397.1L438.1,397.1M395.3,397.1L394,431.4L376,431.9L375.5,448.4L336,447.2M423.1,530L423.6,530L425.3,432.2L501.1,433.2L536.2,433.9L558.7,435.2M467.3,214.7L467.3,217L468.6,226.3L473.6,230L478.6,235L486.1,238.8L494.9,238.8L498.6,245L501.1,255L497.4,262.5L496.1,272.6L494.9,282.6L492.4,291.3L493.1,300.1L496.1,310.1L498.6,320.1L499.9,328.8L500.6,347.6L501.6,348.9L501.1,433.2M499.9,328.8L502.4,337.6L506.1,341.4L516.1,341.4L522.4,335.1L526.1,338.9L529.9,346.4L536.2,347.6L542.4,346.4L548.7,348.9L553.7,351.4L556.2,346.4L562.4,352.6L571.2,351.4L579.9,348.9L586.2,347.6L596.2,345.1L605,347.6L610,341.4L616.2,335.1L615,325.1L617.5,322.6L627.5,322.6L628.7,330.1L632.5,337.6L636.2,345.1L643.7,351.4L647.5,357.6L650,365.1L653.7,367.6L672,367.1M570.7,216L570.7,217.5L573.7,228.8L581.2,240L588.7,251.3L594.9,265L601.2,277.6L607.5,290.1L611.2,300.1L615,312.6L621.2,315.1L622.5,320.1L627.5,322.6M653.7,367.6L650,377.6L655,390.1L656.2,402.6L652.5,412.7L647.5,417.7L646.2,425.2L647.5,432.7L645.7,441.4L646.2,448.9L642.5,452.7L636.2,458.9L627.5,460.2L616.2,460.2L616.2,467.7L613.7,472.7L610,477.7L601.2,481.5L593.7,480.2L588.7,472.7L584.9,462.7L576.2,451.4L568.7,443.9L558.7,435.2M647.5,432.7L672,432.7M646.2,448.9L658.7,452.7L666.2,460.2L672,465.2L672,466.4M531.1,433.9L532.4,442.7L536.2,452.7L539.9,462.7L546.2,467.7L553.7,475.2L561.2,482.7L567.4,487.7L569.9,495.2L564.9,502.7L558.7,510.2L558.7,520.2L561.2,530M610,477.7L611.2,484L618.7,490.2L626.2,492.7L632.5,496.5L628.7,502.7L625,506.5L622.5,512.7L618.7,519L615.7,524L609,530L608.5,530M625,506.5L672,506L672,506.5M762.6,216.5L762.6,217.5L762.6,348.9L745.3,349.4L745.3,418.9M672,367.1L745.3,366.4M745.3,418.9L884.7,418.2L991,417.2M885.4,418.2L884.7,313.1L990.2,312.1L991,417.2M972.2,215.3L972.2,216.3L972.2,312.1M990.2,328.8L1008,328.3L1008,328.8M954.7,417.5L954.7,418.2L955.5,505.2L954.7,530M745.3,418.9L745.8,495.2L744.6,500.2L745.1,507.7L742.1,515.2L734.5,524L733.3,530L734,530.6M672,432.7L679.5,431.4L690.8,432.2L692,436.4L728.3,436.4M692,436.4L691.5,530L692,530M728.3,436.4L730.8,430.2L735.8,427.7L737,431.4L744.6,425.2L745.8,427.7L752.1,422.7L752.6,416.4L759.6,410.7L760.1,418.9L755.8,420.2L755.8,426.4L752.1,427.2L751.6,435.2L745.8,436.4L739.6,438.9L733.3,435.2L733.3,441.4L728.3,440.2L728.3,436.4M672,466.4L682,467.7L690.8,470.2L691.8,470.2M745.8,461.9L764.6,460.7L769.1,462.7L769.6,458.9L773.3,457.7L774.6,460.2L785.8,459.7L787.1,451.4L796.3,451.4L796.3,440.2L802.1,437.2L815.9,439.7L814.6,455.2L802.1,455.2L795.8,456.4L790.8,457.2L790.1,460.2L795.1,460.7L795.1,465.7L782.1,466.4L777.1,467.2L776.6,469.7L773.3,470.7L772.6,477.7L775.1,479L770.8,482.7L770.8,486.5L774.6,485.2L777.1,489L772.1,491.5L770.8,495.2L767.1,494.7L765.8,490.2L760.8,486.5L752.1,485.2L749.6,490.2L743.3,487.7L740.8,490.2L745.8,492.7L737,494L738.3,496.5L745.8,496.5L745.5,496.4M773.3,472.2L955.5,470.7L955.2,470.7M745.1,507.7L955.5,505.2L1008,504.7M807.1,507.2L807.1,530M672,506.5L691.5,506.5M1112.6,212.4L1112.6,213.8L1114.3,263.8L1114.3,272.1L1112.6,272.6L1113.6,326.3M1114.3,263.8L1205.6,260.8L1206.6,260.8M1008,328.8L1096.1,327.1L1207.6,323.3L1208.8,323.3M1096.1,327.1L1096.1,343.9L1094.6,344.6L1095.6,413.9L1094.6,415.2L1096.8,502.2M1008,504.5L1042.3,504.5L1096.8,502.2L1213.7,497.7L1215,497.7M1042.3,504.5L1042.3,530M1207,271.4L1208.9,271.3L1315.2,267.5L1325.2,266.8M1315.2,267.5L1318.7,337.1M1209.5,341.4L1210.7,341.4L1318.7,337.1L1325.2,336.8L1322,337.6M1322,337.6L1324,407.2L1324,406.8M1215.1,499L1216.2,499L1313.7,495.2L1325.2,494.7L1318.2,495.2M1310.1,407.5L1310.2,409.7L1313.7,495.2M1318.2,495.2L1319.5,530L1318.2,530.1M120.7,533L121.3,533L336,541.3M21.3,703.1L110.8,707.6M110.8,707.6L218.4,711.9L220.7,645.6L252.7,633.8L260.2,628.8L266.4,621.3L267.7,616.3L275.2,610.1L286.5,601.8L297.7,600.6L305.2,598.1L312.7,600.6L317.7,605.1L322.7,601.3L330.2,597.6L336,591.3M219.7,678.9L336,681.9L336,681.4M109.8,777.7L110.8,777.7L284,784.7L285.2,784.8M334,750.2L336,749.7L256.4,747.7L261.4,752.7L262.2,761.4L269,762.7L277.7,765.2L279,767.7L286,770.2L285.2,785.2L284,791.4L292.7,792.2L292.7,805.2L291.5,810.2L296.5,815.2L304,817.7L309,821.5L314,825.2L317.2,830.2L315.2,836.5L311.5,842.7L306.5,849L302.7,855M317.2,830.2L322.7,837.7L332.7,834L336,826M334,750.2L335.3,757.7L336,758.9L337.1,758.3M107.6,832.2L143.4,834L143.9,831L233.9,834.7L237.7,842.7L241.4,849.7L250.2,847.7L255.2,842.7L261.4,846.5L267.7,844L276.5,844.7L282.7,849L290.2,852.7L294,855L297.7,858.8M336,541.3L422.3,542.5L531.1,546.3M423.1,530L422.3,542.5M531.1,546.3L533.6,543.8L538.7,547.5L546.2,548.8L552.4,547.5L561.2,543.8L564.9,541.3L562.4,533.8L561.2,530M564.9,541.3L576.2,545L582.4,543.8L588.7,547.5L593.7,546.3L598.7,540L605,535L608.5,530M576.2,545L569.9,555L568.7,567.5L569.9,580L568.7,592.5L564.9,598.8L568.7,602.6L566.7,608.8L567.4,616.3L572.4,621.3L577.4,623.8L579.9,631.3L586.2,632.6L593.7,633.8L598.7,638.8L605,643.8L607.5,652.6L610.7,658.8L606.2,667.6L605,677.6L601.2,681.9L672,681.9L672,681.4M601.2,681.9L608.7,685.1L610,692.6L614.2,700.1L612.5,710.1L610,718.9L601.2,723.9L593.7,731.4L589.9,730.2L586.2,731.4L582.4,735.7L436.1,733.9M531.1,546.3L528.6,552.5L522.4,557.5L519.9,567.5L519.9,577.5L516.1,585L509.9,588.8L508.6,597.6L504.9,602.6L504.1,608.1L566.7,608.8M504.1,608.1L502.4,618.8L496.1,612.6L488.6,608.1L479.9,610.1L472.4,621.3L466.1,622.6L459.8,617.6L452.3,618.8L443.6,612.6L439.1,605.1L429.8,593.8L396,592.5L392.3,586.3L384.8,580L381,572.5L380.5,563.8L377.3,561.3L379.8,558.8L373.5,555L368.5,551.3L373.5,543.8L373.5,541.8M502.4,618.8L508.6,621.3L514.9,628.8L522.4,636.3L533.6,636.3L544.9,639.6L541.2,647.6L536.2,652.6L530.6,656.3L529.9,666.4L528.6,675.1L524.9,680.1L527.4,687.6L533.6,693.9L538.7,700.1L539.9,710.1L542.4,718.9L548.7,726.4L555.7,735.2M380.5,563.8L374.8,565L372.3,568.8L363.5,570L361,572.5L351,577.5L341,585L336,591.3M361,572.5L358.5,681.4L357.3,756.4L336,755.9L336,756.4M336,681.4L358.5,681.9M436.1,733.9L434.8,827.7L434.6,827.2M345.6,787.9L344.8,787.7L434.8,789.4L435.3,789.4M336,756.4L341,765.2L343.5,775.2L346,786.4L344.8,791.4L348.5,799L352.3,805.2L348.5,811.5L347.3,816.5L341,820.2L341,824L348.5,830.2L351,837.7L348.5,842.7L351,850.2L355.3,855M336,826L341,824M411.1,855L412.3,830.2L418.6,827.7L423.6,827.2L427.3,829L433.6,827.7L438.6,825.2L443.6,829L449.8,826.5L456.1,831.5L463.6,837.7L471.1,842.7L478.6,845.2L483.6,849L483.6,855L482.4,855M483.6,853.2L498.6,854L499.9,855M593.7,731.4L601.2,740.2L610,750.2L618.7,761.4L627.5,769.7L672,769.7M627.5,769.7L636.2,780.2L646.2,790.2L650,802.7L656.2,812.7L660,822.7L662.5,829L672,832.7L672,835.2M692,530L691.5,595L807.1,594.5L902.7,594.5L903.4,647.1L956,646.3L954.7,530M807.1,530L807.1,594.5M702,595L701.5,681.9M748.3,595L749.6,612.6L749.1,646.3L743.3,647.6L742.6,661.3L763.3,662.1L763.3,691.4L715.8,692.1L715.8,682.1L672,681.4M734,530.6L734.5,530L728.3,537.5L727,547.5L723.3,557.5L718.3,567.5L712,575L710.8,581.3L704.5,588.8L701.5,597.6L702,597.6M763.3,691.4L764.1,770.7L672,769.4L672,769.7M763.6,717.6L764.1,717.6L903.4,716.4L991,715.6L1008,715.1M903.4,647.1L904.7,855M991,715.6L992.2,767.2L1008,766.4L1008,767.2M992.2,767.2L991.7,785.7L974.2,786.4L974,798.2L943.5,799L941,797.2L932.2,795.9L922.2,795.2L912.2,792.7L904.7,793.2L904.3,793.2M745.8,770.7L746.3,840.2L750.8,846.5L809.6,842.7L847.1,855L846.7,855.9M672,835.2L678.3,842.7L689.5,840.2L699.5,836.5L705.8,834L709.5,842.7L714.5,834L720.8,825.2L727,819.7L730.8,824L732,830.2L738.3,834L743.3,832.7L746.3,840.2M678.3,842.7L684.5,849L685.8,855L683.3,855M1042.3,530L1043.8,591.3L1042.3,592.5L1044.3,680.1L1043,681.4L1043.5,713.9L1008,715.1M1042.7,610.6L1043.8,610.6L1217.7,604.1L1218.6,604.1M1043.5,695.9L1220.7,691.4L1221.5,691.4M1008,767.2L1113.1,765.2L1223.2,761.4L1223.8,761.4M1113.1,765.2L1115.1,852.7L1113.1,855L1114.3,855M1008,767.2L1008,767.7L1009.3,855M1218.1,587L1219.4,587L1307,583.8L1325.2,582.5L1320.7,582.5M1318.2,530L1320.7,582.5M1307,583.8L1309.5,670.1L1309.6,671.4M1221,674.4L1221.9,674.4L1296.2,672.1L1325.2,670.6M1296.2,672.1L1299.5,758.9M1223.8,762.2L1224.4,762.2L1299.5,758.9L1325.2,758.2M1303.7,758.8L1303.7,759.7L1307,846.5L1309.5,847.7L1310,855L1309.5,855M103.8,911.2L105.1,911.3L125.8,883.8L277.7,887.5L336,889.3M303,854.7L297.7,858.8L295.2,866.3L287.7,872.5L279,876.3L277.7,887.5L271.5,895L267.7,905L266.4,917.5L261.4,927.6L252.7,937.6L240.2,942.6L235.2,952.6L228.9,965.1L222.7,972.6L221.4,985.1L216.4,997.6L207.7,1012.6L207.6,1015M325.2,1124.7L326,1134.7M355.5,855L359.8,860L356,865L355.5,890L336,889.5M355.5,890L354.8,934.6L411.1,935.8L412.3,883.8L409.8,882.5L411.1,855M354.8,934.6L352.3,1017.6L352.3,1019.6M411.1,935.8L411.1,941.3L478.6,942.6L479.9,887.5L482.4,886.3L482.4,855M478.6,941.3L586.2,943.1L587.4,872.5L499.9,871.3L499.9,855M587.4,872.5L672,873M483.6,941.4L483.6,942.1L483.1,975.1L496.1,982.6L497.4,995.1L513.6,1021.4L513.6,1022.6M586.2,943.1L586.2,952.1L633.2,952.6L672,912.5L675.8,907.5M633.2,952.6L636.2,960.1L637.5,966.3L634.2,973.8L635.7,985.1L633.7,995.1L634.2,1005.1L630,1011.4L632.5,1018.9L636.2,1022.1L636.2,1024.5M361,1019.8L361,1022.1L357.3,1027.6L357.3,1038.9M591.2,1023.8L591.2,1025.6L594.9,1038.9M599.9,1124.7L600.7,1134.7M683.3,855L682,865L680.8,872.5L672,873M680.8,872.5L677,882.5L674.5,892.5L673.3,902.5L675.8,907.5L683.3,901.3L689.5,900L695.8,896.3L705.8,892L713.3,897.5L723.3,900L724.5,908.8L725.8,920L727,932.6L732,942.6L727.5,943.8L728.3,965.1L729,1022.6L729,1024.9M728.3,965.1L737,963.8L744.6,958.8L750.8,955.1L757.1,948.8L767.1,945.1L779.6,943.8L792.1,942.6L802.1,936.3L802.6,926.3L812.1,921.3L819.6,913.8L827.1,900L834.6,885L843.4,871.3L857.1,860.5M844.8,854.3L844.6,855L857.1,860.5L904.2,875L904.7,855M904.2,875L904.7,893.8L1008,892.5L1008,893M717,1024.9L717,1026.4L715.8,1030.1L720.8,1041.4L717,1055.2L717.5,1075.2L713.3,1081.4L703.3,1080.2L700.8,1085.2L694.5,1088.9L695.8,1097.7L693.3,1105.2L697,1112.7L693.3,1116.4L700.8,1126.5L697,1134.7M914.2,1023.4L914.2,1025.1L915.2,1134.7M1009.3,855L1010,892.5L1010,893M1008,893L1062.5,892L1115.6,890L1227.7,886.8L1228.1,886.8M1114.3,855L1115.6,890M1062.5,892L1063.5,943.8L1062.5,945.1L1063.5,1020.1L1063.5,1020.7M1227.4,868.1L1229.4,868L1309.5,865L1325.2,864.5M1309.5,855L1313.2,935.1M1229.9,938.1L1230.7,938.1L1307.7,935.6L1325.2,934.6M1307.7,935.6L1311.5,1013.1L1311.5,1013.5M1234.3,1016.7L1234.4,1018.9L1235.2,1047.6L1237.7,1116.4L1237.7,1117.2M1215.6,1117.8L1215.7,1120.2L1216.4,1134.7M1303.7,1115.2L1303.7,1116.4L1304.7,1134.7"/>
<path fill="none" stroke="#000" stroke-width="3.05" stroke-linejoin="miter" d="M135.3,203.9L336,212L504,215.5L672,216.8L840,216.3L1008,215L1204.8,210.2L1216.2,530L1226.9,855L1232.8,1016.8L1180,1018.4L1008,1021.8L840,1024.6L672,1025L504,1022.5L336,1019.3L207.5,1015L157.4,1012.6L99.3,1009.7L106.3,855L120.8,530L135.3,203.9L336,212M20,198.2L135.3,203.9M20,1006.2L99.3,1009.7M99.3,1009.7L98.2,1038.3L93.2,1134.9M897.4,100L897.6,216.3M1211.9,412L1325,406.8M1232.8,1016.8L1325,1012.9M1077.3,1021.5L1080,1121.5M1072.5,1134.9L1072.5,1122.2L1325,1114.5"/>
</g>
<rect x="20" y="100" width="1305.1" height="1034.9" fill="none" stroke="#000" stroke-width="2.2"/>
<rect x="378.4" y="112.6" width="589.5" height="92.4" fill="#fff" stroke="#000" stroke-width="2.78"/>
<text x="386.40" y="138.75" font-size="23.93" textLength="111.69" lengthAdjust="spacingAndGlyphs" stroke-width="0.26">statewide</text><text x="505.36" y="138.75" font-size="23.93" textLength="113.06" lengthAdjust="spacingAndGlyphs" stroke-width="0.26">departure</text><text x="625.70" y="138.75" font-size="23.93" textLength="53.27" lengthAdjust="spacingAndGlyphs" stroke-width="0.26">from</text><text x="686.25" y="138.75" font-size="23.93" textLength="124.78" lengthAdjust="spacingAndGlyphs" stroke-width="0.26">1901-2000</text><text x="818.30" y="138.75" font-size="23.93" textLength="49.82" lengthAdjust="spacingAndGlyphs" stroke-width="0.26">avg:</text><text x="875.40" y="138.75" font-size="23.93" textLength="80.20" lengthAdjust="spacingAndGlyphs" stroke-width="0.26">+2.3°F</text>
<text x="386.40" y="165.4" font-size="23.93" textLength="111.69" lengthAdjust="spacingAndGlyphs" stroke-width="0.26">statewide</text><text x="505.36" y="165.4" font-size="23.93" textLength="113.06" lengthAdjust="spacingAndGlyphs" stroke-width="0.26">departure</text><text x="625.70" y="165.4" font-size="23.93" textLength="53.27" lengthAdjust="spacingAndGlyphs" stroke-width="0.26">from</text><text x="686.25" y="165.4" font-size="23.93" textLength="124.78" lengthAdjust="spacingAndGlyphs" stroke-width="0.26">1991-2020</text><text x="818.30" y="165.4" font-size="23.93" textLength="49.82" lengthAdjust="spacingAndGlyphs" stroke-width="0.26">avg:</text><text x="875.40" y="165.4" font-size="23.93" textLength="80.20" lengthAdjust="spacingAndGlyphs" stroke-width="0.26">+1.6°F</text>
<text x="386.40" y="192.0" font-size="23.93" textLength="111.72" lengthAdjust="spacingAndGlyphs" stroke-width="0.26">statewide</text><text x="505.40" y="192.0" font-size="23.93" textLength="58.93" lengthAdjust="spacingAndGlyphs" stroke-width="0.26">rank:</text><text x="571.61" y="192.0" font-size="23.93" textLength="38.06" lengthAdjust="spacingAndGlyphs" stroke-width="0.26">7th</text><text x="616.94" y="192.0" font-size="23.93" textLength="173.98" lengthAdjust="spacingAndGlyphs" stroke-width="0.26">warmest/124th</text><text x="798.20" y="192.0" font-size="23.93" textLength="82.50" lengthAdjust="spacingAndGlyphs" stroke-width="0.26">coldest</text>
<rect x="31.9" y="1040.9" width="626.7" height="83.3" fill="#fff" stroke="#000" stroke-width="2.78"/>
<text x="38.40" y="1065.7" font-size="22.47" textLength="78.64" lengthAdjust="spacingAndGlyphs" stroke-width="0.25">source:</text><text x="123.87" y="1065.7" font-size="22.47" textLength="66.44" lengthAdjust="spacingAndGlyphs" stroke-width="0.25">PRISM</text><text x="197.15" y="1065.7" font-size="22.47" textLength="82.73" lengthAdjust="spacingAndGlyphs" stroke-width="0.25">Climate</text><text x="286.71" y="1065.7" font-size="22.47" textLength="72.28" lengthAdjust="spacingAndGlyphs" stroke-width="0.25">Group,</text><text x="365.83" y="1065.7" font-size="22.47" textLength="78.95" lengthAdjust="spacingAndGlyphs" stroke-width="0.25">Oregon</text><text x="451.61" y="1065.7" font-size="22.47" textLength="56.91" lengthAdjust="spacingAndGlyphs" stroke-width="0.25">State</text><text x="515.35" y="1065.7" font-size="22.47" textLength="108.45" lengthAdjust="spacingAndGlyphs" stroke-width="0.25">University</text>
<text x="38.40" y="1088.5" font-size="22.47" textLength="55.02" lengthAdjust="spacingAndGlyphs" stroke-width="0.25">map:</text><text x="100.25" y="1088.5" font-size="22.47" textLength="96.13" lengthAdjust="spacingAndGlyphs" stroke-width="0.25">Colorado</text><text x="203.21" y="1088.5" font-size="22.47" textLength="82.75" lengthAdjust="spacingAndGlyphs" stroke-width="0.25">Climate</text><text x="292.80" y="1088.5" font-size="22.47" textLength="175.75" lengthAdjust="spacingAndGlyphs" stroke-width="0.25">Center/Colorado</text><text x="475.38" y="1088.5" font-size="22.47" textLength="56.92" lengthAdjust="spacingAndGlyphs" stroke-width="0.25">State</text><text x="539.13" y="1088.5" font-size="22.47" textLength="108.47" lengthAdjust="spacingAndGlyphs" stroke-width="0.25">University</text>
<text x="38.40" y="1111.2" font-size="22.47" textLength="47.76" lengthAdjust="spacingAndGlyphs" stroke-width="0.25">map</text><text x="92.99" y="1111.2" font-size="22.47" textLength="111.03" lengthAdjust="spacingAndGlyphs" stroke-width="0.25">generated</text><text x="210.85" y="1111.2" font-size="22.47" textLength="27.35" lengthAdjust="spacingAndGlyphs" stroke-width="0.25">06</text><text x="245.04" y="1111.2" font-size="22.47" textLength="65.52" lengthAdjust="spacingAndGlyphs" stroke-width="0.25">March</text><text x="317.39" y="1111.2" font-size="22.47" textLength="54.71" lengthAdjust="spacingAndGlyphs" stroke-width="0.25">2025</text>
<text x="53.10" y="45.6" font-size="34.83" textLength="209.48" lengthAdjust="spacingAndGlyphs" stroke-width="0.38">temperature</text><text x="273.17" y="45.6" font-size="34.83" textLength="164.61" lengthAdjust="spacingAndGlyphs" stroke-width="0.38">departure</text><text x="448.37" y="45.6" font-size="34.83" textLength="77.55" lengthAdjust="spacingAndGlyphs" stroke-width="0.38">from</text><text x="536.52" y="45.6" font-size="34.83" textLength="181.66" lengthAdjust="spacingAndGlyphs" stroke-width="0.38">1991-2020</text><text x="728.77" y="45.6" font-size="34.83" textLength="136.44" lengthAdjust="spacingAndGlyphs" stroke-width="0.38">average</text><text x="875.80" y="45.6" font-size="34.83" textLength="202.84" lengthAdjust="spacingAndGlyphs" stroke-width="0.38">(preliminary</text><text x="1089.24" y="45.6" font-size="34.83" textLength="103.00" lengthAdjust="spacingAndGlyphs" stroke-width="0.38">PRISM</text><text x="1202.83" y="45.6" font-size="34.83" textLength="88.07" lengthAdjust="spacingAndGlyphs" stroke-width="0.38">data)</text>
<text x="337.50" y="83.8" font-size="34.83" textLength="21.20" lengthAdjust="spacingAndGlyphs" stroke-width="0.38">4</text><text x="369.30" y="83.8" font-size="34.83" textLength="125.52" lengthAdjust="spacingAndGlyphs" stroke-width="0.38">months</text><text x="505.41" y="83.8" font-size="34.83" textLength="114.32" lengthAdjust="spacingAndGlyphs" stroke-width="0.38">ending</text><text x="630.33" y="83.8" font-size="34.83" textLength="133.38" lengthAdjust="spacingAndGlyphs" stroke-width="0.38">October</text><text x="774.30" y="83.8" font-size="34.83" textLength="84.82" lengthAdjust="spacingAndGlyphs" stroke-width="0.38">2007</text><text x="869.71" y="83.8" font-size="34.83" textLength="136.79" lengthAdjust="spacingAndGlyphs" stroke-width="0.38">(Jul-Oct)</text>
<rect x="122.30" y="1147.1" width="110.53" height="40.100000000000136" fill="#124984"/>
<rect x="232.23" y="1147.1" width="110.53" height="40.100000000000136" fill="#327cb7"/>
<rect x="342.16" y="1147.1" width="110.53" height="40.100000000000136" fill="#6bacd1"/>
<rect x="452.09" y="1147.1" width="110.53" height="40.100000000000136" fill="#b1d5e7"/>
<rect x="562.02" y="1147.1" width="110.53" height="40.100000000000136" fill="#e4eef4"/>
<rect x="671.95" y="1147.1" width="110.53" height="40.100000000000136" fill="#fae9df"/>
<rect x="781.88" y="1147.1" width="110.53" height="40.100000000000136" fill="#f8bfa4"/>
<rect x="891.81" y="1147.1" width="110.53" height="40.100000000000136" fill="#e48066"/>
<rect x="1001.74" y="1147.1" width="110.53" height="40.100000000000136" fill="#c43b3c"/>
<rect x="1111.67" y="1147.1" width="110.53" height="40.100000000000136" fill="#8a0b25"/>
<path d="M122.6,1147.1L70.0,1167.15L122.6,1187.2Z" fill="#053061"/>
<path d="M1221.9,1147.1L1274.2,1167.15L1221.9,1187.2Z" fill="#67001f"/>
<path d="M122.6,1147.1L1221.9,1147.1L1274.2,1167.15L1221.9,1187.2L122.6,1187.2L70.0,1167.15Z" fill="none" stroke="#000" stroke-width="2" stroke-linejoin="miter"/>
<path d="M232.63,1187.2V1196.9" stroke="#000" stroke-width="2.2"/>
<rect x="215.23" y="1220.05" width="17.4" height="2.3" fill="#000"/>
<text x="243.93" y="1229.9" font-size="29.5" stroke-width="0.32" text-anchor="middle">4</text>
<path d="M452.49,1187.2V1196.9" stroke="#000" stroke-width="2.2"/>
<rect x="435.09" y="1220.05" width="17.4" height="2.3" fill="#000"/>
<text x="463.79" y="1229.9" font-size="29.5" stroke-width="0.32" text-anchor="middle">2</text>
<path d="M672.35,1187.2V1196.9" stroke="#000" stroke-width="2.2"/>
<text x="672.05" y="1229.9" font-size="29.5" stroke-width="0.32" text-anchor="middle">0</text>
<path d="M892.21,1187.2V1196.9" stroke="#000" stroke-width="2.2"/>
<text x="891.91" y="1229.9" font-size="29.5" stroke-width="0.32" text-anchor="middle">2</text>
<path d="M1112.07,1187.2V1196.9" stroke="#000" stroke-width="2.2"/>
<text x="1111.77" y="1229.9" font-size="29.5" stroke-width="0.32" text-anchor="middle">4</text>
<text x="325.90" y="1272.5" font-size="34.83" textLength="209.49" lengthAdjust="spacingAndGlyphs" stroke-width="0.38">temperature</text><text x="545.98" y="1272.5" font-size="34.83" textLength="164.61" lengthAdjust="spacingAndGlyphs" stroke-width="0.38">departure</text><text x="721.18" y="1272.5" font-size="34.83" textLength="77.55" lengthAdjust="spacingAndGlyphs" stroke-width="0.38">from</text><text x="809.32" y="1272.5" font-size="34.83" textLength="136.45" lengthAdjust="spacingAndGlyphs" stroke-width="0.38">average</text><text x="956.36" y="1272.5" font-size="34.83" textLength="61.84" lengthAdjust="spacingAndGlyphs" stroke-width="0.38">(°F)</text>
</svg></body></html>
